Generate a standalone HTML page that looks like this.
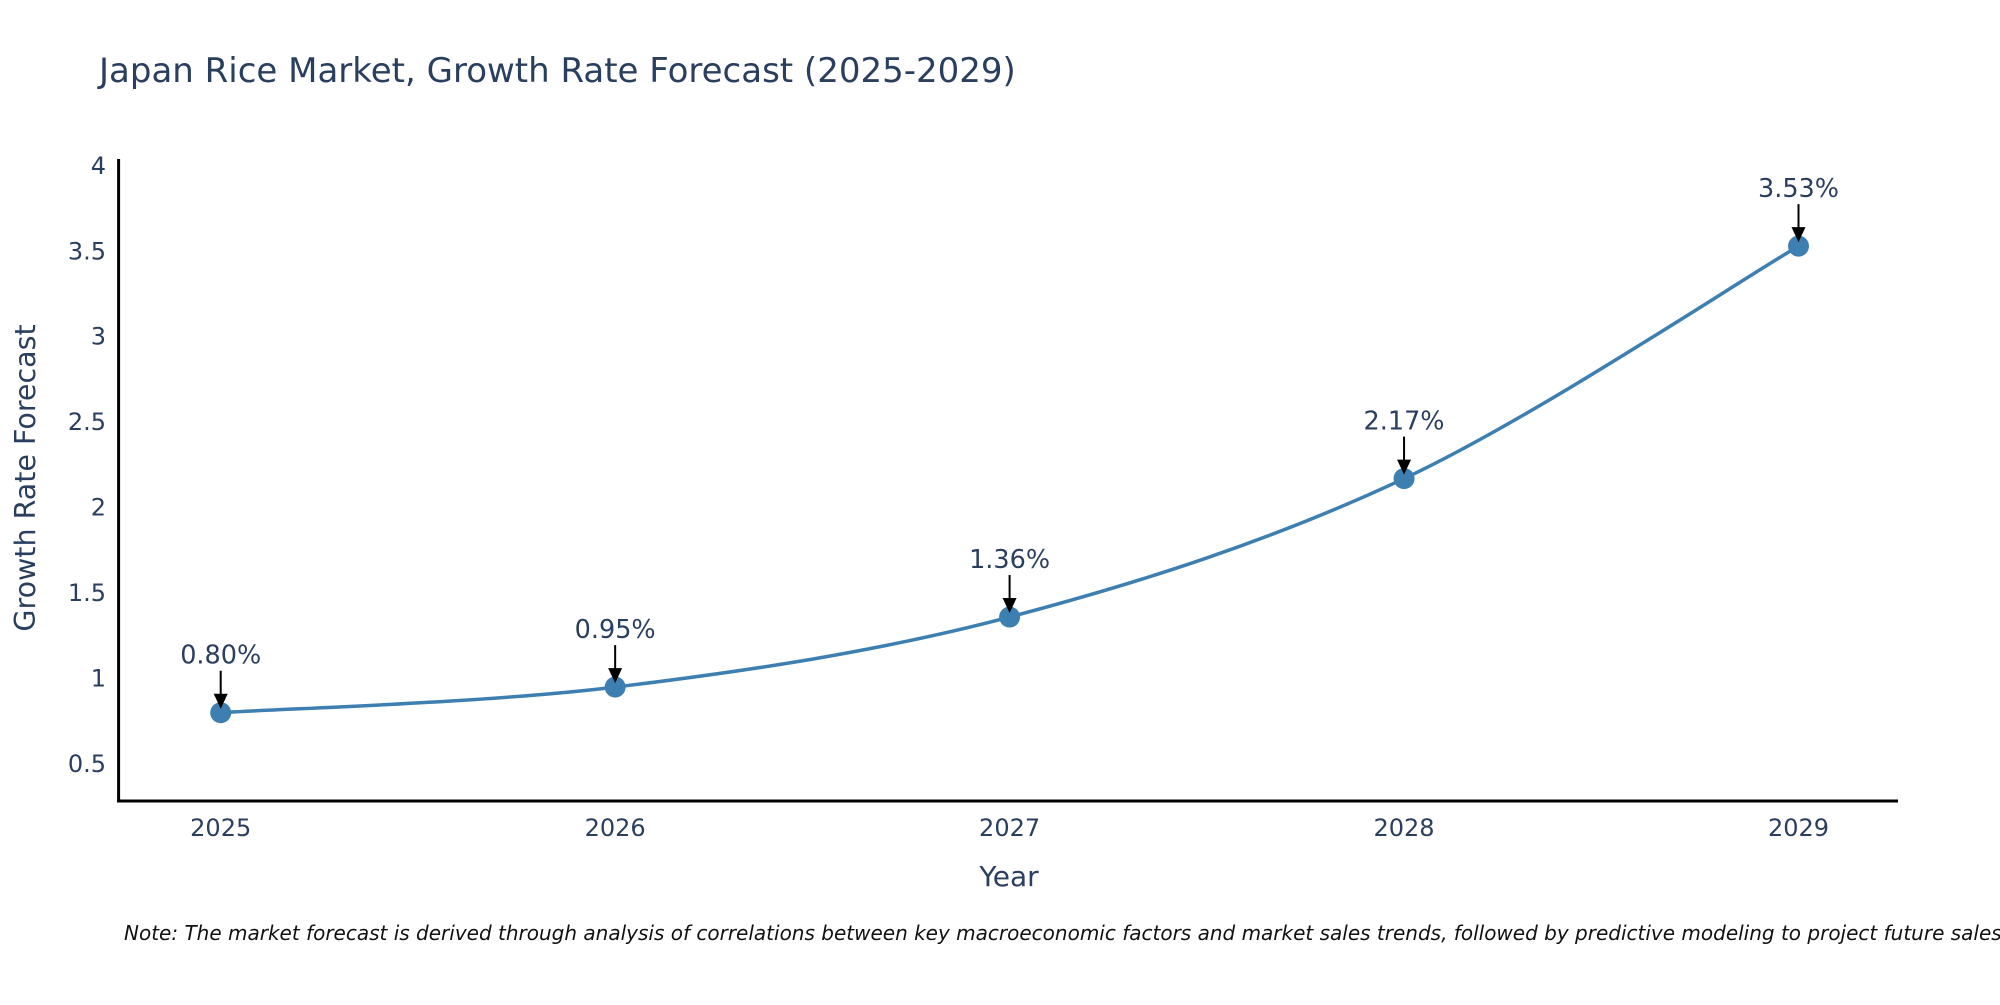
<!DOCTYPE html>
<html><head><meta charset="utf-8"><style>
body{margin:0;background:#fff;}
svg text{font-family:"DejaVu Sans","Liberation Sans",sans-serif;fill:#2a3f5f;}
</style></head><body>
<svg id="chart" width="2000" height="1000" viewBox="0 0 2000 1000" xmlns="http://www.w3.org/2000/svg">
<rect width="2000" height="1000" fill="#fff"/>
<text x="99" y="82" font-size="34">Japan Rice Market, Growth Rate Forecast (2025-2029)</text>
<g id="yticks"></g>
<g id="xticks"></g>
<line x1="118.6" y1="159" x2="118.6" y2="802" stroke="#000" stroke-width="3"/>
<line x1="117" y1="801" x2="1898" y2="801" stroke="#000" stroke-width="3"/>
<g id="series"></g>
<text x="1009" y="886" font-size="28" text-anchor="middle">Year</text>
<text x="0" y="0" font-size="28.5" text-anchor="middle" transform="translate(35,478) rotate(-90)">Growth Rate Forecast</text>
<text x="124" y="940" font-size="20" font-style="italic" style="fill:#111">Note: The market forecast is derived through analysis of correlations between key macroeconomic factors and market sales trends, followed by predictive modeling to project future sales.</text>
</svg>
<script>
const years = [2025, 2026, 2027, 2028, 2029];
const values = [0.80, 0.95, 1.36, 2.17, 3.53];
const valueLabels = ["0.80%", "0.95%", "1.36%", "2.17%", "3.53%"];
const yTickValues = [0.5, 1, 1.5, 2, 2.5, 3, 3.5, 4];
const yTickLabels = ["0.5", "1", "1.5", "2", "2.5", "3", "3.5", "4"];

const NS = "http://www.w3.org/2000/svg";
function xScale(v){ return 220.7 + (v - 2025) * (1798.5 - 220.7) / 4; }
function yScale(v){ return 764 - (v - 0.5) * (764 - 165.8) / 3.5; }
function mk(tag, attrs, parent){ const e = document.createElementNS(NS, tag); for (const k in attrs) e.setAttribute(k, attrs[k]); parent.appendChild(e); return e; }

const yt = document.getElementById('yticks');
yTickValues.forEach((v, i) => {
  const t = mk('text', {x: 106, y: yScale(v) + 8, 'font-size': 24, 'text-anchor': 'end'}, yt);
  
  
  t.textContent = yTickLabels[i];
});
const xt = document.getElementById('xticks');
years.forEach(y => {
  const t = mk('text', {x: xScale(y), y: 836, 'font-size': 24, 'text-anchor': 'middle'}, xt);
  
  
  t.textContent = String(y);
});

const g = document.getElementById('series');
const pts = years.map((y, i) => [xScale(y), yScale(values[i])]);
let d = `M${pts[0][0]},${pts[0][1]}`;
const s = 1/6;
for (let i = 0; i < pts.length - 1; i++) {
  const p0 = pts[Math.max(i-1,0)], p1 = pts[i], p2 = pts[i+1], p3 = pts[Math.min(i+2, pts.length-1)];
  const c1 = [p1[0] + (p2[0]-p0[0])*s, p1[1] + (p2[1]-p0[1])*s];
  const c2 = [p2[0] - (p3[0]-p1[0])*s, p2[1] - (p3[1]-p1[1])*s];
  d += ` C${c1[0]},${c1[1]} ${c2[0]},${c2[1]} ${p2[0]},${p2[1]}`;
}
const line = mk('path', {d: d, fill: 'none', stroke: '#3d7fb0', 'stroke-width': 3.5}, g);



pts.forEach((p, i) => {
  const c = mk('circle', {cx: p[0], cy: p[1], r: 10.5, fill: '#3d7fb0'}, g);
  
  
  const a = mk('line', {x1: p[0], y1: p[1] - 42, x2: p[0], y2: p[1] - 16, stroke: '#000', 'stroke-width': 2}, g);
  
  
  const h = mk('polygon', {points: `${p[0]-7},${p[1]-19} ${p[0]+7},${p[1]-19} ${p[0]},${p[1]-4}`, fill: '#000'}, g);
  
  
  const t = mk('text', {x: p[0], y: p[1] - 49, 'font-size': 25.5, 'text-anchor': 'middle'}, g);
  
  
  t.textContent = valueLabels[i];
});
</script>
</body></html>
